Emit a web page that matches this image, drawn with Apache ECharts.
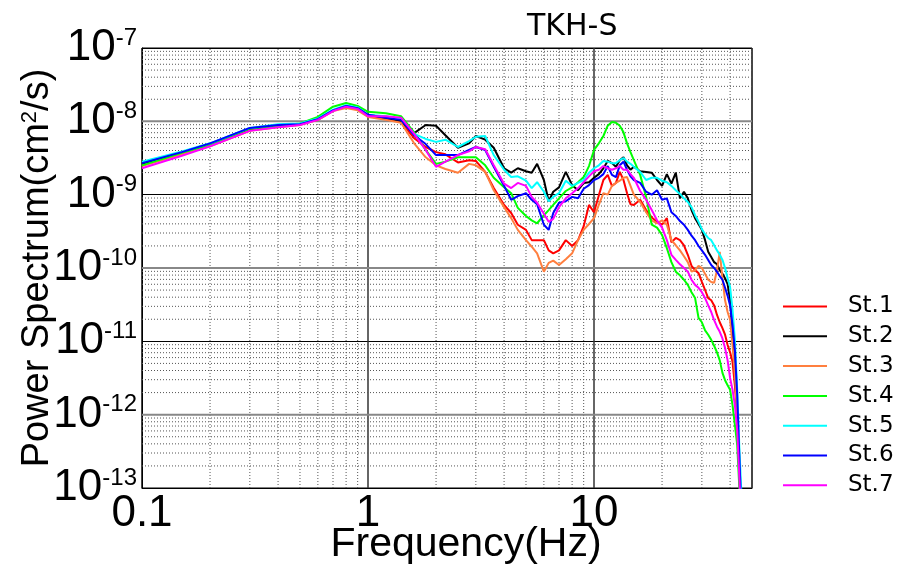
<!DOCTYPE html>
<html><head><meta charset="utf-8">
<script src="https://cdn.jsdelivr.net/npm/echarts@6/dist/echarts.min.js"></script>
<style>html,body{margin:0;padding:0;background:#fff}#c{width:902px;height:570px}</style>
</head><body><div id="c"></div><script>
// Frequency (Hz)
const freq = [0.1,0.15,0.2,0.3,0.4,0.5,0.6,0.7,0.8,0.9,1,1.2,1.4,
  1.6,1.8,2,2.2,2.5,2.8,3,3.3,3.6,
  4,4.3,4.6,5,5.3,5.6,6,6.3,6.6,7,7.5,8,8.5,9,9.5,
  10,10.5,11,11.5,12,12.5,13,13.5,14,14.5,15,
  16,17,18,19,20,21,22,23,24,25,26,27,28,29,30,31,32,33,34,35,36,37,38,39,40,41,42,43,44,45,46];

// Power spectrum, stored as log10(cm^2/s)
const st1 = [-8.60,-8.43,-8.32,-8.11,-8.06,-8.04,-7.98,-7.85,-7.80,-7.83,-7.93,-7.97,-8.01,
  -8.23,-8.35,-8.42,-8.45,-8.56,-8.53,-8.54,-8.69,-8.91,
  -9.14,-9.25,-9.41,-9.48,-9.62,-9.62,-9.62,-9.76,-9.80,-9.76,-9.62,-9.70,-9.62,-9.43,-9.14,
  -9.24,-9.01,-8.80,-8.73,-8.88,-8.84,-8.69,-8.80,-8.98,-9.13,-9.14,
  -9.07,-9.21,-9.31,-9.37,-9.41,-9.32,-9.65,-9.59,-9.62,-9.69,-9.82,-9.97,-10.03,-10.07,-10.19,-10.30,-10.41,-10.44,-10.51,-10.64,-10.74,-10.82,-10.91,-11.05,-11.15,-11.28,-11.60,-12.01,-12.62,-13.44,-13.98];
const st2 = [-8.58,-8.42,-8.31,-8.10,-8.05,-8.04,-7.97,-7.85,-7.79,-7.82,-7.91,-7.95,-8.00,
  -8.16,-8.05,-8.06,-8.19,-8.36,-8.30,-8.20,-8.25,-8.36,
  -8.64,-8.70,-8.64,-8.68,-8.70,-8.58,-8.80,-9.09,-8.96,-8.90,-8.69,-8.87,-8.94,-8.84,-8.83,
  -8.77,-8.72,-8.64,-8.54,-8.57,-8.62,-8.53,-8.49,-8.60,-8.66,-8.62,
  -8.68,-8.69,-8.70,-8.80,-8.88,-8.72,-8.85,-8.70,-9.05,-8.96,-9.05,-9.21,-9.32,-9.40,-9.48,-9.62,-9.78,-9.85,-9.92,-9.95,-10.03,-10.08,-10.14,-10.22,-10.44,-10.85,-11.39,-12.07,-12.82,-13.57,-14.12];
const st3 = [-8.61,-8.45,-8.34,-8.13,-8.08,-8.05,-7.98,-7.86,-7.82,-7.85,-7.94,-7.98,-8.02,
  -8.30,-8.49,-8.60,-8.65,-8.70,-8.58,-8.60,-8.69,-8.94,
  -9.17,-9.32,-9.48,-9.62,-9.71,-9.80,-10.05,-9.93,-9.90,-9.96,-9.88,-9.80,-9.62,-9.48,-9.40,
  -9.32,-9.14,-8.98,-9.00,-8.88,-8.84,-8.81,-8.77,-8.76,-8.88,-9.00,
  -9.10,-9.24,-9.35,-9.39,-9.35,-9.41,-9.62,-9.69,-9.76,-9.84,-9.92,-10.05,-10.03,-9.97,-10.00,-10.08,-10.16,-10.19,-10.20,-10.03,-9.78,-10.14,-10.44,-10.60,-10.71,-11.05,-11.46,-12.07,-12.76,-13.57,-14.12];
const st4 = [-8.60,-8.43,-8.32,-8.10,-8.06,-8.03,-7.94,-7.80,-7.75,-7.79,-7.87,-7.89,-7.93,
  -8.15,-8.39,-8.58,-8.55,-8.49,-8.49,-8.49,-8.60,-8.77,
  -8.90,-8.98,-9.18,-9.29,-9.35,-9.39,-9.28,-9.21,-9.14,-9.05,-8.95,-8.90,-8.83,-8.76,-8.61,
  -8.39,-8.30,-8.20,-8.06,-8.01,-8.02,-8.06,-8.15,-8.30,-8.42,-8.53,
  -8.73,-9.03,-9.41,-9.45,-9.55,-9.73,-9.92,-10.05,-10.10,-10.16,-10.23,-10.33,-10.41,-10.68,-10.74,-10.85,-10.91,-10.98,-11.06,-11.15,-11.26,-11.43,-11.53,-11.60,-11.66,-11.87,-12.14,-12.41,-13.03,-13.71,-14.25];
const st5 = [-8.55,-8.41,-8.30,-8.09,-8.04,-8.03,-7.96,-7.84,-7.78,-7.81,-7.91,-7.93,-7.97,
  -8.17,-8.24,-8.28,-8.25,-8.35,-8.27,-8.21,-8.20,-8.46,
  -8.66,-8.76,-8.75,-8.81,-8.91,-8.83,-8.96,-9.09,-9.03,-8.98,-8.81,-8.88,-8.84,-8.80,-8.70,
  -8.64,-8.60,-8.54,-8.55,-8.57,-8.57,-8.53,-8.50,-8.55,-8.58,-8.62,
  -8.69,-8.80,-8.77,-8.77,-8.81,-8.83,-8.88,-8.94,-8.99,-9.05,-9.10,-9.17,-9.28,-9.37,-9.47,-9.54,-9.59,-9.62,-9.69,-9.76,-9.82,-9.89,-10.00,-10.14,-10.26,-10.57,-10.98,-11.66,-12.48,-13.16,-13.98];
const st6 = [-8.57,-8.42,-8.30,-8.09,-8.05,-8.04,-7.97,-7.85,-7.79,-7.82,-7.91,-7.95,-7.98,
  -8.19,-8.31,-8.46,-8.46,-8.46,-8.39,-8.35,-8.39,-8.62,
  -8.88,-9.07,-9.02,-8.98,-9.07,-9.13,-9.41,-9.48,-9.25,-9.11,-9.09,-9.03,-9.05,-8.92,-8.87,
  -8.80,-8.77,-8.72,-8.61,-8.73,-8.76,-8.60,-8.55,-8.66,-8.75,-8.80,
  -8.84,-8.96,-9.00,-8.94,-9.07,-9.05,-9.24,-9.29,-9.36,-9.41,-9.48,-9.56,-9.62,-9.70,-9.76,-9.82,-9.89,-9.96,-10.00,-10.05,-10.11,-10.16,-10.27,-10.38,-10.51,-10.78,-11.12,-11.73,-12.62,-13.44,-14.12];
const st7 = [-8.64,-8.47,-8.34,-8.13,-8.08,-8.05,-7.98,-7.86,-7.80,-7.83,-7.93,-7.93,-7.95,
  -8.17,-8.39,-8.62,-8.55,-8.46,-8.41,-8.35,-8.38,-8.60,
  -8.85,-8.91,-8.84,-8.88,-9.03,-9.11,-9.26,-9.37,-9.33,-9.17,-9.05,-8.98,-8.91,-8.83,-8.75,
  -8.68,-8.66,-8.61,-8.64,-8.66,-8.64,-8.61,-8.66,-8.66,-8.72,-8.77,
  -8.95,-9.07,-9.21,-9.35,-9.45,-9.62,-9.82,-9.89,-9.95,-10.00,-10.05,-10.16,-10.23,-10.27,-10.33,-10.41,-10.51,-10.60,-10.71,-10.80,-10.87,-10.96,-11.09,-11.26,-11.50,-11.66,-11.87,-12.21,-12.89,-13.71,-14.25];

const seriesNames = ['St.1','St.2','St.3','St.4','St.5','St.6','St.7'];
const seriesColors = ['#ff0000','#000000','#ff7f3f','#00ff00','#00ffff','#0000ff','#ff00ff'];
const seriesLogs = [st1, st2, st3, st4, st5, st6, st7];

// axis ranges / grid-line positions
const xMin = 0.1, xMax = 50;
const yMin = 1e-13, yMax = 1e-7;
const xDecades = [0.1, 1, 10];
const yDecades = [1e-13, 1e-12, 1e-11, 1e-10, 1e-9, 1e-8];
const minorMantissas = [2,3,4,5,6,7,8,9];
const grayMajorY = [1e-8, 1e-10, 1e-12];

const FONT = "'Liberation Sans', Arial, sans-serif";
const DJV = "'DejaVu Sans', sans-serif";

const minorX = [];
xDecades.forEach(d => minorMantissas.forEach(m => { const v = +(m * d).toPrecision(3); if (v < xMax) minorX.push(v); }));
const minorY = [];
yDecades.forEach(d => minorMantissas.forEach(m => minorY.push(+(m * d).toPrecision(3))));

// grid-line polylines (gaps between segments)
const minorData = [];
minorX.forEach(v => { minorData.push([v, yMin], [v, yMax], [v, '-']); });
minorY.forEach(v => { minorData.push([xMin, v], [xMax, v], [xMax, '-']); });
const grayData = [];
grayMajorY.forEach(v => { grayData.push([xMin, v], [xMax, v], [xMax, '-']); });

const chart = echarts.init(document.getElementById('c'), null, {renderer: 'canvas'});

const series = [
  {type: 'line', name: '_minor', symbol: 'none', z: 1, silent: true, connectNulls: false,
   lineStyle: {color: '#555', width: 1, type: [1, 2]}, data: minorData},
  {type: 'line', name: '_gray', symbol: 'none', z: 1, silent: true, connectNulls: false,
   lineStyle: {color: '#888', width: 2}, data: grayData}
].concat(seriesNames.map((n, i) => ({
  name: n, type: 'line', symbol: 'none', showSymbol: false, z: 5,
  lineStyle: {color: seriesColors[i], width: 2},
  itemStyle: {color: seriesColors[i]},
  data: freq.map((f, k) => [f, Math.pow(10, seriesLogs[i][k])])
})));

chart.setOption({
  animation: false,
  backgroundColor: '#fff',
  title: {
    text: 'TKH-S', left: 527, top: 12, padding: 0,
    textStyle: {fontFamily: DJV, fontSize: 30, fontWeight: 'normal', color: '#000'}
  },
  legend: {
    orient: 'vertical', left: 783, top: 295, padding: 0,
    icon: 'rect', itemWidth: 44, itemHeight: 2, itemGap: 6.8,
    data: seriesNames,
    textStyle: {fontFamily: DJV, fontSize: 23, color: '#000', lineHeight: 20, padding: [0, 0, 0, 16]}
  },
  grid: {left: 142, top: 48, right: 150, bottom: 82, show: true, borderColor: '#000', borderWidth: 1, backgroundColor: '#fff', containLabel: false, outerBoundsMode: 'none'},
  xAxis: {
    type: 'log', logBase: 10, min: xMin, max: xMax,
    axisLine: {show: true, lineStyle: {color: '#000', width: 1}},
    axisTick: {show: false},
    splitLine: {show: true, lineStyle: {color: '#333', width: 1.5}},
    axisLabel: {
      fontFamily: FONT, fontSize: 44, color: '#000', margin: 4, showMaxLabel: false,
      formatter: v => { const l = Math.log10(v); return Math.abs(l - Math.round(l)) < 1e-6 ? String(+v.toPrecision(3)) : ''; }
    },
    name: 'Frequency(Hz)', nameLocation: 'middle', nameGap: 36, nameMoveOverlap: false,
    nameTextStyle: {fontFamily: FONT, fontSize: 41, color: '#000', padding: [0, 0, 0, 38]}
  },
  yAxis: {
    type: 'log', logBase: 10, min: yMin, max: yMax,
    axisLine: {show: true, lineStyle: {color: '#000', width: 1}},
    axisTick: {show: false},
    splitLine: {show: true, lineStyle: {color: '#000', width: 1}},
    axisLabel: {
      margin: 5, color: '#000',
      formatter: v => '{b|10}{s|' + Math.round(Math.log10(v)) + '}',
      rich: {
        b: {fontFamily: FONT, fontSize: 44, color: '#000'},
        s: {fontFamily: FONT, fontSize: 24, color: '#000', verticalAlign: 'top'}
      }
    },
    name: '{a|Power Spectrum(cm}{s|2}{a|/s)}', nameLocation: 'middle', nameGap: 85, nameRotate: 90, nameMoveOverlap: false,
    nameTextStyle: {
      rich: {
        a: {fontFamily: FONT, fontSize: 38, color: '#000'},
        s: {fontFamily: FONT, fontSize: 22, color: '#000', verticalAlign: 'top'}
      }
    }
  },
  series: series
});
</script></body></html>
